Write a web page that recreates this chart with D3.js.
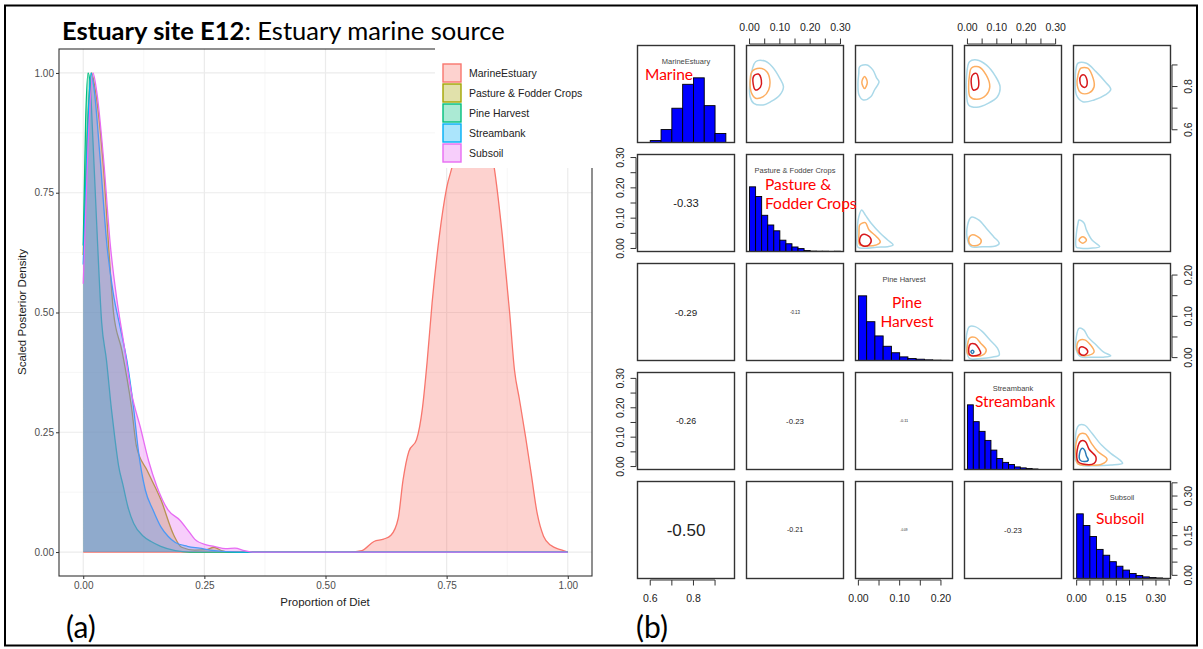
<!DOCTYPE html>
<html>
<head>
<meta charset="utf-8">
<script src="https://cdn.jsdelivr.net/npm/d3@7"></script>
<style>
  body { margin: 0; background: #fff; }
  svg { display: block; }
</style>
</head>
<body>
<div id="chart"></div>
<script>
const width = 1203;
const height = 649;

// ---------- panel (a): scaled posterior densities ----------
const sources = ["MarineEstuary", "Pasture & Fodder Crops", "Pine Harvest", "Streambank", "Subsoil"];
const sourceColors = ["#F8766D", "#A3A500", "#00BF7D", "#00B0F6", "#E76BF3"];

const marineDensity = [[0,0],[0.55,0],[0.575,0.003],[0.60,0.022],[0.62,0.027],[0.635,0.035],[0.65,0.07],
  [0.66,0.15],[0.672,0.21],[0.688,0.235],[0.70,0.30],[0.71,0.40],[0.72,0.52],[0.735,0.66],[0.75,0.76],
  [0.765,0.82],[0.78,0.92],[0.80,1.0],[0.82,0.97],[0.835,0.88],[0.85,0.79],[0.865,0.66],[0.88,0.50],
  [0.89,0.38],[0.90,0.32],[0.913,0.24],[0.925,0.16],[0.937,0.08],[0.95,0.033],[0.965,0.014],[0.985,0.005],[1,0]];
const pastureDensity = [[0,0.62],[0.008,0.87],[0.017,1.0],[0.024,0.97],[0.042,0.80],[0.055,0.60],[0.0625,0.50],
  [0.08,0.42],[0.10,0.30],[0.11,0.22],[0.132,0.17],[0.16,0.11],[0.187,0.035],[0.203,0.01],[0.23,0.004],
  [0.255,0.005],[0.27,0.01],[0.285,0.003],[0.30,0],[1,0]];
const pineDensity = [[0,0.64],[0.005,0.9],[0.01,1.0],[0.014,0.98],[0.02,0.86],[0.028,0.68],[0.038,0.48],
  [0.048,0.40],[0.058,0.30],[0.065,0.24],[0.073,0.18],[0.082,0.14],[0.092,0.095],[0.104,0.06],[0.124,0.033],
  [0.14,0.022],[0.16,0.012],[0.19,0.003],[0.22,0],[1,0]];
const streamDensity = [[0,0.60],[0.008,0.85],[0.016,1.0],[0.022,0.97],[0.035,0.82],[0.049,0.64],[0.062,0.54],
  [0.076,0.47],[0.09,0.40],[0.104,0.30],[0.114,0.21],[0.128,0.13],[0.144,0.088],[0.16,0.053],[0.175,0.033],
  [0.19,0.02],[0.215,0.012],[0.24,0.008],[0.27,0.003],[0.32,0],[1,0]];
const subsoilDensity = [[0,0.56],[0.01,0.85],[0.02,1.0],[0.028,0.96],[0.042,0.82],[0.056,0.64],[0.069,0.53],
  [0.083,0.44],[0.10,0.33],[0.118,0.26],[0.135,0.19],[0.152,0.137],[0.175,0.088],[0.199,0.067],[0.215,0.047],
  [0.23,0.027],[0.254,0.015],[0.27,0.012],[0.294,0.007],[0.313,0.008],[0.333,0.003],[0.35,0],[1,0]];
const densities = [marineDensity, pastureDensity, pineDensity, streamDensity, subsoilDensity];

const dietTicks = [0, 0.25, 0.5, 0.75, 1];
const dietMinor = [0.125, 0.375, 0.625, 0.875];

// ---------- panel (b): pairs plot ----------
const pairDomains = [[0.541, 0.99], [-0.01, 0.31], [-0.007, 0.228], [-0.01, 0.32], [-0.012, 0.355]];
const pairTicks = [
  [0.6, 0.7, 0.8, 0.9],
  [0, 0.05, 0.1, 0.15, 0.2, 0.25, 0.3],
  [0, 0.05, 0.1, 0.15, 0.2],
  [0, 0.05, 0.1, 0.15, 0.2, 0.25, 0.3],
  [0, 0.05, 0.1, 0.15, 0.2, 0.25, 0.3, 0.35]
];
const pairTickLabels = [[0.6, 0.8], [0, 0.1, 0.2, 0.3], [0, 0.1, 0.2], [0, 0.1, 0.2, 0.3], [0, 0.15, 0.3]];
const pairFormats = [".1f", ".2f", ".2f", ".2f", ".2f"];

// histogram heights (count / max count), bins start at binStart with width binWidth
const binStart = [0.6, 0, 0, 0, 0];
const binWidth = [0.05, 0.02, 0.02, 0.02, 0.025];
const marineHist = [0.03, 0.2, 0.53, 0.9, 1.0, 0.57, 0.14];
const pastureHist = [1.0, 0.85, 0.56, 0.41, 0.32, 0.175, 0.12, 0.07, 0.045, 0.015, 0.006, 0.004, 0.004, 0.002, 0.004];
const pineHist = [1.0, 0.6, 0.38, 0.22, 0.12, 0.056, 0.03, 0.02, 0.01, 0.005, 0.003];
const streamHist = [1.0, 0.74, 0.59, 0.45, 0.30, 0.17, 0.11, 0.077, 0.04, 0.025, 0.015, 0.008];
const subsoilHist = [1.0, 0.82, 0.65, 0.45, 0.36, 0.26, 0.19, 0.13, 0.077, 0.046, 0.025, 0.015, 0.008];
const histograms = [marineHist, pastureHist, pineHist, streamHist, subsoilHist];

// lower triangle correlations
const corrMatrix = [
  [],
  [-0.33],
  [-0.29, -0.13],
  [-0.26, -0.23, -0.11],
  [-0.50, -0.21, -0.09, -0.23]
];

// red annotation labels on the diagonal
const annotations = [["Marine"], ["Pasture &", "Fodder Crops"], ["Pine", "Harvest"], ["Streambank"], ["Subsoil"]];

// contour lines of the upper triangle, [x, y] in data units
const contourColors = ["#abd9e9", "#fdae61", "#d7191c", "#2c7bb6"];
const contours = [
  { row: 0, col: 1, level: 0, pts: [[0.0015,0.815],[0.020,0.915],[0.051,0.918],[0.075,0.892],[0.100,0.838],[0.112,0.799],[0.100,0.761],[0.070,0.730],[0.045,0.715],[0.014,0.722],[0.002,0.753]] },
  { row: 0, col: 1, level: 1, pts: [[0.008,0.869],[0.033,0.885],[0.057,0.869],[0.067,0.830],[0.063,0.784],[0.045,0.753],[0.020,0.746],[0.005,0.776],[0.002,0.822]] },
  { row: 0, col: 1, level: 2, pts: [[0.014,0.849],[0.029,0.858],[0.039,0.830],[0.036,0.797],[0.020,0.784],[0.012,0.812]] },
  { row: 0, col: 2, level: 0, pts: [[0.003,0.892],[0.021,0.900],[0.035,0.877],[0.044,0.840],[0.050,0.822],[0.039,0.784],[0.030,0.753],[0.012,0.738],[0.0015,0.761],[-0.001,0.815],[0.001,0.861]] },
  { row: 0, col: 2, level: 1, pts: [[0.0083,0.820],[0.015,0.847],[0.0216,0.820],[0.015,0.791]] },
  { row: 0, col: 3, level: 0, pts: [[0.007,0.915],[0.032,0.923],[0.064,0.900],[0.096,0.846],[0.111,0.799],[0.102,0.753],[0.070,0.722],[0.032,0.704],[0.004,0.715],[-0.003,0.769],[-0.003,0.846]] },
  { row: 0, col: 3, level: 1, pts: [[0.013,0.885],[0.038,0.892],[0.064,0.853],[0.076,0.799],[0.064,0.761],[0.032,0.741],[0.009,0.753],[0.004,0.799],[0.007,0.853]] },
  { row: 0, col: 3, level: 2, pts: [[0.017,0.853],[0.030,0.861],[0.038,0.830],[0.035,0.792],[0.020,0.784],[0.013,0.815]] },
  { row: 0, col: 4, level: 0, pts: [[0.005,0.908],[0.037,0.908],[0.073,0.869],[0.108,0.822],[0.129,0.787],[0.108,0.761],[0.066,0.738],[0.023,0.730],[-0.001,0.761],[-0.005,0.830],[-0.003,0.877]] },
  { row: 0, col: 4, level: 1, pts: [[0.016,0.885],[0.042,0.885],[0.058,0.853],[0.066,0.799],[0.047,0.771],[0.016,0.771],[0.002,0.807],[0.005,0.853]] },
  { row: 0, col: 4, level: 2, pts: [[0.016,0.849],[0.030,0.853],[0.040,0.822],[0.033,0.797],[0.019,0.803],[0.012,0.827]] },
  { row: 1, col: 2, level: 0, pts: [[0.008,0.127],[0.017,0.110],[0.031,0.083],[0.053,0.050],[0.071,0.028],[0.084,0.012],[0.071,0.006],[0.044,0.004],[0.017,0.001],[-0.001,0.004],[-0.003,0.050],[0.001,0.105]] },
  { row: 1, col: 2, level: 1, pts: [[0.008,0.083],[0.017,0.085],[0.026,0.061],[0.044,0.039],[0.053,0.022],[0.044,0.012],[0.021,0.008],[0.003,0.012],[0.0015,0.050],[0.003,0.077]] },
  { row: 1, col: 2, level: 2, pts: [[0.008,0.044],[0.021,0.044],[0.031,0.028],[0.026,0.012],[0.012,0.008],[0.003,0.022]] },
  { row: 1, col: 3, level: 0, pts: [[0.013,0.103],[0.038,0.094],[0.064,0.067],[0.089,0.039],[0.108,0.017],[0.096,0.008],[0.051,0.006],[0.013,0.006],[0.0005,0.028],[0.0005,0.077]] },
  { row: 1, col: 3, level: 1, pts: [[0.013,0.044],[0.032,0.041],[0.047,0.026],[0.038,0.012],[0.013,0.011],[0.004,0.028]] },
  { row: 1, col: 4, level: 0, pts: [[0.009,0.094],[0.027,0.085],[0.037,0.061],[0.058,0.028],[0.087,0.006],[0.052,0.001],[0.016,0.001],[-0.001,0.004],[-0.001,0.050],[0.005,0.083]] },
  { row: 1, col: 4, level: 1, pts: [[0.009,0.028],[0.023,0.039],[0.037,0.028],[0.023,0.017]] },
  { row: 2, col: 3, level: 0, pts: [[0.007,0.075],[0.026,0.075],[0.051,0.063],[0.076,0.043],[0.102,0.023],[0.108,0.006],[0.083,0.001],[0.045,-0.002],[0.007,-0.002],[-0.003,0.018],[-0.003,0.055]] },
  { row: 2, col: 3, level: 1, pts: [[0.007,0.047],[0.026,0.049],[0.045,0.035],[0.064,0.018],[0.051,0.006],[0.020,0.004],[0.0005,0.010],[0.0005,0.031]] },
  { row: 2, col: 3, level: 2, pts: [[0.011,0.033],[0.026,0.033],[0.038,0.023],[0.045,0.010],[0.032,0.005],[0.009,0.006],[0.004,0.020]] },
  { row: 2, col: 3, level: 3, pts: [[0.012,0.014],[0.017,0.018],[0.022,0.014],[0.017,0.010]] },
  { row: 2, col: 4, level: 0, pts: [[0.009,0.071],[0.027,0.067],[0.044,0.049],[0.073,0.031],[0.101,0.014],[0.129,0.004],[0.101,0.001],[0.058,0.001],[0.016,0.002],[-0.001,0.018],[-0.001,0.051]] },
  { row: 2, col: 4, level: 1, pts: [[0.009,0.041],[0.030,0.043],[0.052,0.031],[0.066,0.014],[0.047,0.006],[0.016,0.006],[0.002,0.018],[0.002,0.033]] },
  { row: 2, col: 4, level: 2, pts: [[0.013,0.025],[0.030,0.024],[0.042,0.014],[0.030,0.006],[0.013,0.009],[0.009,0.018]] },
  { row: 3, col: 4, level: 0, pts: [[0.009,0.141],[0.030,0.141],[0.058,0.113],[0.094,0.073],[0.129,0.045],[0.164,0.022],[0.174,0.011],[0.129,0.005],[0.073,0.003],[0.016,0.005],[-0.005,0.022],[-0.005,0.090],[-0.001,0.124]] },
  { row: 3, col: 4, level: 1, pts: [[0.013,0.111],[0.033,0.111],[0.056,0.079],[0.080,0.051],[0.115,0.025],[0.094,0.008],[0.044,0.005],[0.005,0.009],[-0.003,0.039],[-0.001,0.085]] },
  { row: 3, col: 4, level: 2, pts: [[0.016,0.087],[0.033,0.085],[0.047,0.059],[0.073,0.032],[0.066,0.011],[0.023,0.009],[0.005,0.017],[0.002,0.056]] },
  { row: 3, col: 4, level: 3, pts: [[0.021,0.062],[0.030,0.056],[0.037,0.036],[0.044,0.022],[0.030,0.017],[0.013,0.022],[0.011,0.045]] }
];

// ---------- drawing ----------
const svg = d3.select("#chart")
  .append("svg")
  .attr("width", width)
  .attr("height", height);

svg.append("rect").attr("width", width).attr("height", height).attr("fill", "#fff");

// outer frame
svg.append("rect")
  .attr("x", 5).attr("y", 5.5).attr("width", 1192).attr("height", 640)
  .attr("fill", "none").attr("stroke", "#000").attr("stroke-width", 2);

// title
const title = svg.append("text")
  .attr("x", 62).attr("y", 40)
  .attr("font-family", "Lato, 'Open Sans', sans-serif")
  .attr("font-size", 22)
  .attr("fill", "#000");
title.append("tspan").attr("font-weight", "bold").text("Estuary site E12");
title.append("tspan").text(": Estuary marine source");
const titleLen = title.node().getComputedTextLength();
title.attr("font-size", 22 * 443 / titleLen);

// panel (a)
const xA = d3.scaleLinear().domain([-0.05, 1.05]).range([59, 592]);
const yA = d3.scaleLinear().domain([-0.05, 1.05]).range([576, 49]);

const gridA = svg.append("g");
dietMinor.forEach(v => {
  gridA.append("line").attr("x1", xA(v)).attr("x2", xA(v)).attr("y1", yA.range()[0]).attr("y2", yA.range()[1])
    .attr("stroke", "#f2f2f2").attr("stroke-width", 0.7);
  gridA.append("line").attr("y1", yA(v)).attr("y2", yA(v)).attr("x1", xA.range()[0]).attr("x2", xA.range()[1])
    .attr("stroke", "#f2f2f2").attr("stroke-width", 0.7);
});
dietTicks.forEach(v => {
  gridA.append("line").attr("x1", xA(v)).attr("x2", xA(v)).attr("y1", yA.range()[0]).attr("y2", yA.range()[1])
    .attr("stroke", "#ebebeb").attr("stroke-width", 1.2);
  gridA.append("line").attr("y1", yA(v)).attr("y2", yA(v)).attr("x1", xA.range()[0]).attr("x2", xA.range()[1])
    .attr("stroke", "#ebebeb").attr("stroke-width", 1.2);
});

const area = d3.area()
  .x(d => xA(d[0]))
  .y0(yA(0))
  .y1(d => yA(d[1]))
  .curve(d3.curveMonotoneX);
const line = d3.line()
  .x(d => xA(d[0]))
  .y(d => yA(d[1]))
  .curve(d3.curveMonotoneX);

densities.forEach((dens, i) => {
  svg.append("path").attr("d", area(dens)).attr("fill", sourceColors[i]).attr("fill-opacity", 0.33);
  svg.append("path").attr("d", line(dens)).attr("fill", "none").attr("stroke", sourceColors[i]).attr("stroke-width", 1.3);
});

svg.append("rect")
  .attr("x", 59).attr("y", 49).attr("width", 533).attr("height", 527)
  .attr("fill", "none").attr("stroke", "#333").attr("stroke-width", 1.1);

const xAxisA = svg.append("g")
  .attr("transform", `translate(0,576)`)
  .call(d3.axisBottom(xA).tickValues(dietTicks).tickFormat(d3.format(".2f")).tickSize(3).tickSizeOuter(0));
const yAxisA = svg.append("g")
  .attr("transform", `translate(59,0)`)
  .call(d3.axisLeft(yA).tickValues(dietTicks).tickFormat(d3.format(".2f")).tickSize(3).tickSizeOuter(0));
[xAxisA, yAxisA].forEach(g => {
  g.select(".domain").remove();
  g.selectAll(".tick line").attr("stroke", "#333");
  g.selectAll(".tick text").attr("fill", "#4d4d4d").attr("font-size", 10)
    .attr("font-family", "'Liberation Sans', Arial, sans-serif");
});
yAxisA.selectAll(".tick text").attr("x", -5);

svg.append("text")
  .attr("x", 325).attr("y", 606)
  .attr("text-anchor", "middle")
  .attr("font-family", "'Liberation Sans', Arial, sans-serif")
  .attr("font-size", 11.5).attr("fill", "#222")
  .text("Proportion of Diet");

svg.append("text")
  .attr("transform", "rotate(-90)")
  .attr("x", -312).attr("y", 26)
  .attr("text-anchor", "middle")
  .attr("font-family", "'Liberation Sans', Arial, sans-serif")
  .attr("font-size", 11.5).attr("fill", "#222")
  .text("Scaled Posterior Density");

// legend (white box sits over the panel corner)
svg.append("rect").attr("x", 435).attr("y", 42).attr("width", 175).attr("height", 126).attr("fill", "#fff");
const legend = svg.append("g");
sources.forEach((s, i) => {
  legend.append("rect")
    .attr("x", 443).attr("y", 64 + i * 20).attr("width", 18).attr("height", 18)
    .attr("fill", sourceColors[i]).attr("fill-opacity", 0.33)
    .attr("stroke", sourceColors[i]).attr("stroke-width", 1.4);
  legend.append("text")
    .attr("x", 469).attr("y", 73 + i * 20)
    .attr("dominant-baseline", "central")
    .attr("font-family", "'Liberation Sans', Arial, sans-serif")
    .attr("font-size", 10.5).attr("fill", "#222")
    .text(s);
});

svg.append("text")
  .attr("x", 66).attr("y", 638)
  .attr("font-family", "Lato, 'Open Sans', sans-serif")
  .attr("font-size", 30).attr("fill", "#000")
  .text("(a)");

// panel (b)
const cell = 97, pitch = 109, originX = 637.5, originY = 45.5;
const colLeft = j => originX + j * pitch;
const rowTop = i => originY + i * pitch;
const xP = pairDomains.map((dom, j) => d3.scaleLinear().domain(dom).range([colLeft(j), colLeft(j) + cell]));
const yP = pairDomains.map((dom, i) => d3.scaleLinear().domain(dom).range([rowTop(i) + cell, rowTop(i)]));

const pairs = svg.append("g");
const defs = svg.append("defs");

for (let i = 0; i < 5; i++) {
  for (let j = 0; j < 5; j++) {
    defs.append("clipPath").attr("id", `cell-${i}-${j}`)
      .append("rect").attr("x", colLeft(j)).attr("y", rowTop(i)).attr("width", cell).attr("height", cell);
  }
}

// histograms on the diagonal
histograms.forEach((h, k) => {
  const yH = d3.scaleLinear().domain([0, 1.5]).range([rowTop(k) + cell, rowTop(k)]);
  pairs.append("g").attr("clip-path", `url(#cell-${k}-${k})`)
    .selectAll("rect")
    .data(h)
    .enter()
    .append("rect")
    .attr("x", (d, b) => xP[k](binStart[k] + b * binWidth[k]))
    .attr("width", (d, b) => xP[k](binStart[k] + (b + 1) * binWidth[k]) - xP[k](binStart[k] + b * binWidth[k]))
    .attr("y", d => yH(d))
    .attr("height", d => yH(0) - yH(d))
    .attr("fill", "#0000FF")
    .attr("stroke", "#000")
    .attr("stroke-width", 0.9);

  pairs.append("text")
    .attr("x", colLeft(k) + cell / 2).attr("y", rowTop(k) + 16)
    .attr("text-anchor", "middle").attr("dominant-baseline", "central")
    .attr("font-family", "'Liberation Sans', Arial, sans-serif")
    .attr("font-size", 7.5).attr("fill", "#444")
    .text(sources[k]);
});

// contours in the upper triangle
const contourLine = d3.line().curve(d3.curveCatmullRomClosed.alpha(0.5));
contours.forEach(c => {
  pairs.append("path")
    .attr("clip-path", `url(#cell-${c.row}-${c.col})`)
    .attr("d", contourLine(c.pts.map(p => [xP[c.col](p[0]), yP[c.row](p[1])])))
    .attr("fill", "none")
    .attr("stroke", contourColors[c.level])
    .attr("stroke-width", 1.5);
});

// correlations in the lower triangle
corrMatrix.forEach((rowVals, i) => {
  rowVals.forEach((r, j) => {
    const t = pairs.append("text")
      .attr("x", colLeft(j) + cell / 2).attr("y", rowTop(i) + cell / 2)
      .attr("text-anchor", "middle").attr("dominant-baseline", "central")
      .attr("font-family", "'Liberation Sans', Arial, sans-serif")
      .attr("font-size", 10).attr("fill", "#222")
      .text(r.toFixed(2));
    const w = t.node().getComputedTextLength();
    t.attr("font-size", 10 * (0.8 * Math.abs(r) * cell) / w);
  });
});

// cell boxes
for (let i = 0; i < 5; i++) {
  for (let j = 0; j < 5; j++) {
    pairs.append("rect")
      .attr("x", colLeft(j)).attr("y", rowTop(i)).attr("width", cell).attr("height", cell)
      .attr("fill", "none").attr("stroke", "#333").attr("stroke-width", 1.4);
  }
}

// pairs axes: top for even columns, bottom for odd, left for even rows, right for odd
function pairAxis(side, k) {
  const g = pairs.append("g")
    .attr("font-family", "'Liberation Sans', Arial, sans-serif")
    .attr("font-size", 10.5).attr("fill", "#222");
  const ticks = pairTicks[k];
  const fmt = d3.format(pairFormats[k]);
  const showLabel = v => pairTickLabels[k].some(l => Math.abs(l - v) < 1e-9);
  const horizontal = side === "top" || side === "bottom";
  const s = horizontal ? xP[k] : yP[k];
  const lineStyle = sel => sel.attr("stroke", "#333").attr("stroke-width", 1);
  if (horizontal) {
    const y0 = side === "top" ? rowTop(0) - 1.5 : rowTop(4) + cell + 1.5;
    const dir = side === "top" ? -1 : 1;
    lineStyle(g.append("line").attr("x1", s(ticks[0])).attr("x2", s(ticks[ticks.length - 1])).attr("y1", y0).attr("y2", y0));
    ticks.forEach(v => {
      lineStyle(g.append("line").attr("x1", s(v)).attr("x2", s(v)).attr("y1", y0).attr("y2", y0 + dir * 5.5));
      if (showLabel(v)) {
        g.append("text").attr("x", s(v)).attr("y", side === "top" ? y0 - 13 : y0 + 22)
          .attr("text-anchor", "middle").text(fmt(v));
      }
    });
  } else {
    const x0 = side === "left" ? colLeft(0) - 1.5 : colLeft(4) + cell + 1.5;
    const dir = side === "left" ? -1 : 1;
    lineStyle(g.append("line").attr("y1", s(ticks[0])).attr("y2", s(ticks[ticks.length - 1])).attr("x1", x0).attr("x2", x0));
    ticks.forEach(v => {
      lineStyle(g.append("line").attr("y1", s(v)).attr("y2", s(v)).attr("x1", x0).attr("x2", x0 + dir * 5.5));
      if (showLabel(v)) {
        const lx = side === "left" ? x0 - 12 : x0 + 20;
        g.append("text").attr("transform", `translate(${lx},${s(v)}) rotate(-90)`)
          .attr("text-anchor", "middle").text(fmt(v));
      }
    });
  }
}
[1, 3].forEach(k => pairAxis("top", k));
[0, 2, 4].forEach(k => pairAxis("bottom", k));
[1, 3].forEach(k => pairAxis("left", k));
[0, 2, 4].forEach(k => pairAxis("right", k));

// red annotations over the diagonal
const annoLayout = [
  { x: 645, y: 80, anchor: "start" },
  { x: 765, y: 190, anchor: "start" },
  { x: 907, y: 308, anchor: "middle" },
  { x: 975, y: 407, anchor: "start" },
  { x: 1096, y: 524, anchor: "start" }
];
annotations.forEach((lines, k) => {
  lines.forEach((txt, n) => {
    svg.append("text")
      .attr("x", annoLayout[k].x).attr("y", annoLayout[k].y + n * 19)
      .attr("text-anchor", annoLayout[k].anchor)
      .attr("font-family", "Lato, 'Open Sans', sans-serif")
      .attr("font-size", 15.5).attr("fill", "#FF0000")
      .text(txt);
  });
});

svg.append("text")
  .attr("x", 636).attr("y", 638)
  .attr("font-family", "Lato, 'Open Sans', sans-serif")
  .attr("font-size", 30).attr("fill", "#000")
  .text("(b)");
</script>
</body>
</html>
